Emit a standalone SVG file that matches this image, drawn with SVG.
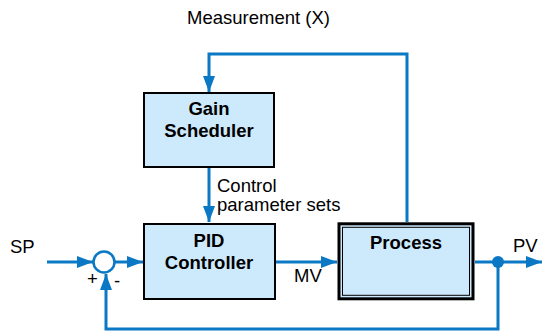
<svg xmlns="http://www.w3.org/2000/svg" width="542" height="334" viewBox="0 0 542 334">
<style>
.box{fill:#cdeafc;stroke:#000;stroke-width:2}
.t{font-family:"Liberation Sans",Arial,sans-serif;font-size:18.5px;fill:#000}
.b{font-weight:bold;text-anchor:middle}
.w{fill:none;stroke:#0a78c4;stroke-width:3}
</style>
<defs>
<marker id="ah" viewBox="0 0 16 12" refX="16" refY="6" markerWidth="16" markerHeight="12" orient="auto" markerUnits="userSpaceOnUse">
<path d="M0,0 L16,6 L0,12 z" fill="#0a78c4"/>
</marker>
</defs>
<rect width="542" height="334" fill="#fff"/>
<g id="connectors">
<path class="w" d="M407,222 V54 H209 V92" marker-end="url(#ah)"/>
<path class="w" d="M209,168 V222" marker-end="url(#ah)"/>
<path class="w" d="M47,262 H93" marker-end="url(#ah)"/>
<path class="w" d="M115,262 H143" marker-end="url(#ah)"/>
<path class="w" d="M275,262 H337" marker-end="url(#ah)"/>
<path class="w" d="M475,262 H542" marker-end="url(#ah)"/>
<path class="w" d="M498,262 V329 H106 V274" marker-end="url(#ah)"/>
<circle cx="498" cy="262" r="6" fill="#0a78c4"/>
</g>
<g id="sum">
<circle cx="104" cy="262" r="10.5" fill="#fff" stroke="#0a78c4" stroke-width="2.5"/>
<text class="t" x="87" y="285">+</text>
<text class="t" x="114" y="287">-</text>
</g>
<g id="gain-scheduler">
<rect class="box" x="144" y="93" width="130" height="74"/>
<text class="t b" x="209" y="115">Gain</text>
<text class="t b" x="209" y="137">Scheduler</text>
</g>
<g id="pid">
<rect class="box" x="144" y="224" width="131" height="75"/>
<text class="t b" x="209" y="247">PID</text>
<text class="t b" x="209" y="269">Controller</text>
</g>
<g id="process">
<rect x="339" y="223.8" width="134" height="75" fill="#cdeafc" stroke="#000" stroke-width="3"/>
<rect x="342.5" y="227.3" width="127" height="68" fill="none" stroke="#000" stroke-width="1"/>
<text class="t b" x="406" y="249">Process</text>
</g>
<g id="labels">
<text class="t" x="187" y="24">Measurement (X)</text>
<text class="t" x="217" y="192">Control</text>
<text class="t" x="217" y="211">parameter sets</text>
<text class="t" x="10" y="253">SP</text>
<text class="t" x="294" y="282">MV</text>
<text class="t" x="513" y="252">PV</text>
</g>
</svg>
